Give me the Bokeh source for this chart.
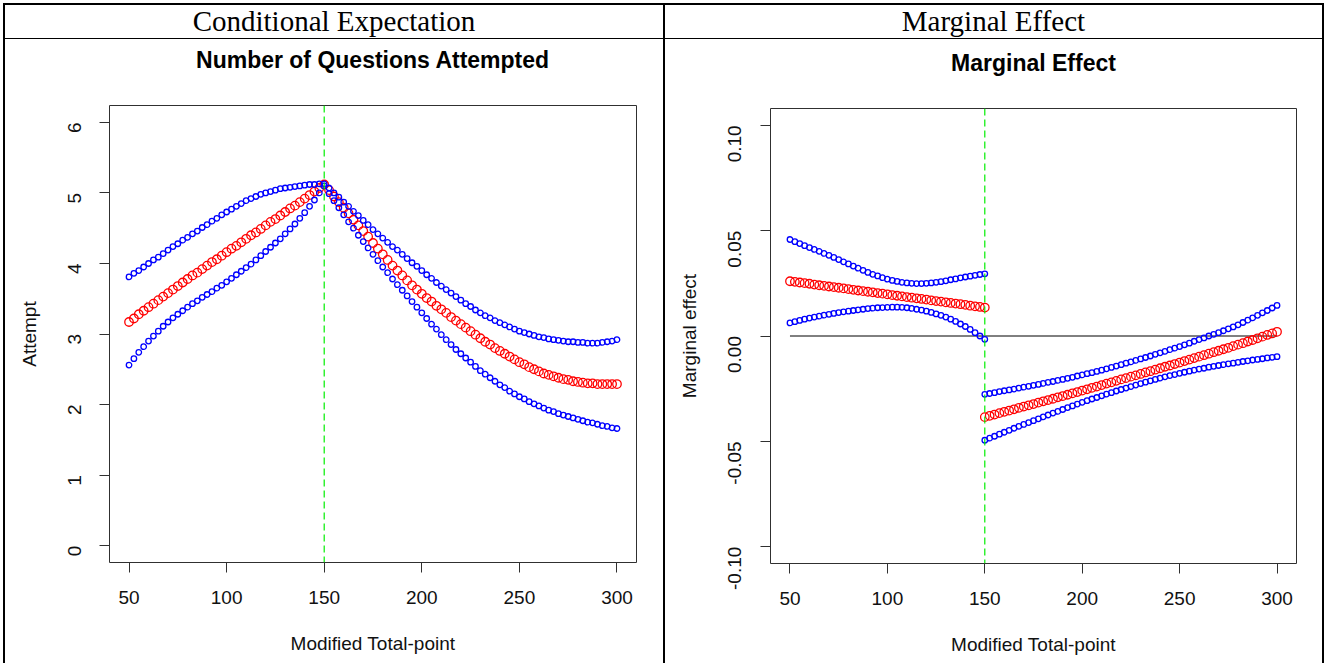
import math
from bokeh.plotting import figure
from bokeh.layouts import row, column
from bokeh.models import (Range1d, FixedTicker, PrintfTickFormatter, Span, Spacer, Div,
                          LinearAxis)
from bokeh.embed import file_html
from bokeh.resources import INLINE

# ---------------- data ----------------
x_points = [50, 52.5, 55, 57.5, 60, 62.5, 65, 67.5, 70, 72.5, 75, 77.5, 80, 82.5, 85, 87.5,
            90, 92.5, 95, 97.5, 100, 102.5, 105, 107.5, 110, 112.5, 115, 117.5, 120, 122.5,
            125, 127.5, 130, 132.5, 135, 137.5, 140, 142.5, 145, 147.5, 150, 152.5, 155, 157.5,
            160, 162.5, 165, 167.5, 170, 172.5, 175, 177.5, 180, 182.5, 185, 187.5, 190, 192.5,
            195, 197.5, 200, 202.5, 205, 207.5, 210, 212.5, 215, 217.5, 220, 222.5, 225, 227.5,
            230, 232.5, 235, 237.5, 240, 242.5, 245, 247.5, 250, 252.5, 255, 257.5, 260, 262.5,
            265, 267.5, 270, 272.5, 275, 277.5, 280, 282.5, 285, 287.5, 290, 292.5, 295, 297.5, 300]
cutoff = 150

attempt_fit = [3.17, 3.22, 3.28, 3.33, 3.38, 3.43, 3.48, 3.53, 3.58, 3.63, 3.68, 3.73, 3.78,
               3.83, 3.87, 3.92, 3.97, 4.02, 4.06, 4.11, 4.16, 4.21, 4.25, 4.30, 4.35, 4.40,
               4.44, 4.49, 4.54, 4.59, 4.63, 4.68, 4.73, 4.78, 4.82, 4.87, 4.92, 4.97, 5.02,
               5.07, 5.12,
               5.04, 4.95, 4.87, 4.79, 4.71, 4.62, 4.54, 4.46, 4.38, 4.29, 4.21, 4.13,
               4.05, 3.97, 3.90, 3.83, 3.76, 3.69, 3.63, 3.57, 3.51, 3.46, 3.40, 3.35,
               3.30, 3.24, 3.19, 3.14, 3.09, 3.04, 2.99, 2.94, 2.89, 2.85, 2.80, 2.76,
               2.72, 2.68, 2.64, 2.60, 2.57, 2.53, 2.50, 2.47, 2.44, 2.42, 2.40, 2.38,
               2.36, 2.35, 2.33, 2.32, 2.31, 2.30, 2.30, 2.29, 2.29, 2.29, 2.29, 2.29]
attempt_upper = [3.81, 3.86, 3.90, 3.95, 4.00, 4.05, 4.09, 4.14, 4.19, 4.24, 4.28, 4.33, 4.37,
                 4.42, 4.46, 4.51, 4.55, 4.60, 4.64, 4.69, 4.73, 4.77, 4.81, 4.85, 4.89, 4.92,
                 4.95, 4.98, 5.00, 5.02, 5.04, 5.06, 5.07, 5.08, 5.09, 5.10, 5.11, 5.12, 5.12,
                 5.13, 5.13,
                 5.07, 5.00, 4.94, 4.87, 4.81, 4.74, 4.68, 4.61, 4.55, 4.48, 4.42, 4.36,
                 4.30, 4.24, 4.19, 4.13, 4.07, 4.01, 3.96, 3.90, 3.84, 3.79, 3.73, 3.68,
                 3.63, 3.58, 3.53, 3.48, 3.43, 3.39, 3.34, 3.30, 3.26, 3.23, 3.19, 3.16,
                 3.13, 3.10, 3.07, 3.04, 3.02, 3.00, 2.98, 2.96, 2.95, 2.93, 2.92, 2.91,
                 2.90, 2.89, 2.89, 2.88, 2.88, 2.87, 2.87, 2.87, 2.88, 2.89, 2.90, 2.92]
attempt_lower = [2.56, 2.65, 2.74, 2.82, 2.90, 2.97, 3.04, 3.11, 3.17, 3.23, 3.28, 3.33, 3.38,
                 3.43, 3.47, 3.52, 3.56, 3.60, 3.65, 3.69, 3.74, 3.79, 3.84, 3.89, 3.94, 3.99,
                 4.05, 4.11, 4.17, 4.23, 4.29, 4.35, 4.42, 4.49, 4.56, 4.64, 4.72, 4.81, 4.90,
                 5.00, 5.10,
                 4.99, 4.89, 4.79, 4.69, 4.59, 4.50, 4.40, 4.31, 4.22, 4.13, 4.04, 3.95,
                 3.87, 3.78, 3.70, 3.62, 3.54, 3.46, 3.38, 3.30, 3.22, 3.14, 3.07, 2.99,
                 2.92, 2.85, 2.78, 2.72, 2.66, 2.60, 2.54, 2.48, 2.43, 2.38, 2.33, 2.28,
                 2.24, 2.19, 2.15, 2.11, 2.08, 2.04, 2.01, 1.98, 1.95, 1.92, 1.90, 1.87,
                 1.85, 1.83, 1.81, 1.79, 1.77, 1.75, 1.74, 1.72, 1.70, 1.69, 1.67, 1.66]

# marginal effect, below the cutoff (x = 50 .. 150)
me_fit_below = [0.0260, 0.0257, 0.0254, 0.0251, 0.0248, 0.0244, 0.0241, 0.0238, 0.0235, 0.0232,
                0.0229, 0.0226, 0.0223, 0.0219, 0.0216, 0.0213, 0.0210, 0.0207, 0.0204, 0.0201,
                0.0198, 0.0194, 0.0191, 0.0188, 0.0185, 0.0182, 0.0179, 0.0176, 0.0173, 0.0169,
                0.0166, 0.0163, 0.0160, 0.0157, 0.0154, 0.0151, 0.0148, 0.0144, 0.0141, 0.0138,
                0.0135]
me_upper_below = [0.0458, 0.0448, 0.0439, 0.0429, 0.0420, 0.0411, 0.0402, 0.0392, 0.0383, 0.0373,
                  0.0363, 0.0352, 0.0342, 0.0332, 0.0322, 0.0312, 0.0302, 0.0293, 0.0285, 0.0277,
                  0.0270, 0.0264, 0.0259, 0.0255, 0.0252, 0.0250, 0.0249, 0.0249, 0.0250, 0.0252,
                  0.0255, 0.0258, 0.0262, 0.0267, 0.0271, 0.0276, 0.0280, 0.0284, 0.0288, 0.0292,
                  0.0295]
me_lower_below = [0.0062, 0.0068, 0.0074, 0.0080, 0.0085, 0.0090, 0.0094, 0.0099, 0.0103, 0.0107,
                  0.0111, 0.0115, 0.0118, 0.0121, 0.0124, 0.0127, 0.0130, 0.0132, 0.0134, 0.0135,
                  0.0136, 0.0137, 0.0137, 0.0136, 0.0134, 0.0131, 0.0127, 0.0123, 0.0118, 0.0112,
                  0.0105, 0.0098, 0.0090, 0.0080, 0.0069, 0.0057, 0.0045, 0.0031, 0.0016, 0.0000,
                  -0.0016]
# marginal effect, above the cutoff (x = 150 .. 300)
me_fit_above = [-0.0385, -0.0379, -0.0373, -0.0366, -0.0360, -0.0354, -0.0348, -0.0341,
                -0.0335, -0.0329, -0.0323, -0.0316, -0.0310, -0.0304, -0.0298, -0.0291,
                -0.0285, -0.0279, -0.0272, -0.0266, -0.0259, -0.0253, -0.0246, -0.0240,
                -0.0233, -0.0226, -0.0220, -0.0213, -0.0206, -0.0200, -0.0193, -0.0187,
                -0.0180, -0.0173, -0.0167, -0.0160, -0.0153, -0.0146, -0.0140, -0.0133,
                -0.0126, -0.0119, -0.0112, -0.0105, -0.0098, -0.0091, -0.0084, -0.0077,
                -0.0070, -0.0063, -0.0056, -0.0048, -0.0041, -0.0034, -0.0026, -0.0019,
                -0.0011, -0.0003, 0.0005, 0.0012, 0.0020]
me_upper_above = [-0.0277, -0.0273, -0.0269, -0.0264, -0.0260, -0.0256, -0.0252, -0.0247,
                  -0.0243, -0.0239, -0.0234, -0.0230, -0.0225, -0.0220, -0.0216, -0.0211,
                  -0.0206, -0.0201, -0.0196, -0.0190, -0.0185, -0.0179, -0.0174, -0.0168,
                  -0.0162, -0.0156, -0.0149, -0.0143, -0.0136, -0.0129, -0.0123, -0.0116,
                  -0.0109, -0.0102, -0.0095, -0.0087, -0.0080, -0.0073, -0.0065, -0.0058,
                  -0.0050, -0.0042, -0.0034, -0.0025, -0.0017, -0.0009, 0.0000, 0.0008,
                  0.0016, 0.0025, 0.0034, 0.0043, 0.0053, 0.0064, 0.0075, 0.0086,
                  0.0098, 0.0110, 0.0121, 0.0133, 0.0145]
me_lower_above = [-0.0495, -0.0485, -0.0476, -0.0466, -0.0457, -0.0448, -0.0438, -0.0429,
                  -0.0420, -0.0411, -0.0402, -0.0393, -0.0384, -0.0375, -0.0366, -0.0358,
                  -0.0349, -0.0340, -0.0332, -0.0323, -0.0315, -0.0307, -0.0299, -0.0292,
                  -0.0284, -0.0276, -0.0269, -0.0261, -0.0254, -0.0247, -0.0240, -0.0233,
                  -0.0226, -0.0219, -0.0213, -0.0206, -0.0200, -0.0194, -0.0188, -0.0183,
                  -0.0177, -0.0172, -0.0167, -0.0162, -0.0157, -0.0153, -0.0148, -0.0144,
                  -0.0140, -0.0136, -0.0132, -0.0129, -0.0125, -0.0121, -0.0118, -0.0114,
                  -0.0111, -0.0108, -0.0104, -0.0101, -0.0098]

x_ticks = [50, 100, 150, 200, 250, 300]
attempt_ticks = [0, 1, 2, 3, 4, 5, 6]
me_ticks = [-0.10, -0.05, 0.0, 0.05, 0.10]

header_left = "Conditional Expectation"
header_right = "Marginal Effect"
title_left = "Number of Questions Attempted"
title_right = "Marginal Effect"
xlabel = "Modified Total-point"
ylabel_left = "Attempt"
ylabel_right = "Marginal effect"

n_below = x_points.index(cutoff) + 1
x_below = x_points[:n_below]
x_above = x_points[n_below - 1:]

# ---------------- styling helpers ----------------
SANS = "Liberation Sans"
BOX = "#303030"
RED_SIZE, BLUE_SIZE = 8.5, 5.5


def bar(w, h, color="black"):
    return Spacer(width=w, height=h, margin=0, styles={"background-color": color})


def header(w, h, text):
    html = ('<div style="width:%dpx;height:%dpx;line-height:%dpx;text-align:center;'
            'font-family:\'Liberation Serif\',serif;font-size:29px;color:#000;'
            'white-space:nowrap;margin:0;padding:0;">%s</div>') % (w, h, h, text)
    return Div(text=html, width=w, height=h, margin=0)


def panel(w, h, ylo, yhi, title, ylab, yticks, borders, fmt=None,
          ylab_standoff=19, ytick_standoff=25):
    l, r, t, b = borders
    p = figure(width=w, height=h, x_range=Range1d(40, 310), y_range=Range1d(ylo, yhi),
               toolbar_location=None, output_backend="svg", title=None,
               min_border_left=l, min_border_right=r, min_border_top=t, min_border_bottom=b)
    p.grid.visible = False
    p.outline_line_color = BOX
    p.outline_line_width = 1
    bottom_axis = p.below[0]
    left_axis = p.left[0]
    for ax in (bottom_axis, left_axis):
        ax.axis_line_color = None
        ax.major_tick_line_color = BOX
        ax.major_tick_out = 10
        ax.major_tick_in = 0
        ax.minor_tick_line_color = None
        ax.major_label_text_font = SANS
        ax.major_label_text_font_size = "19px"
        ax.major_label_text_color = "#111111"
        ax.axis_label_text_font = SANS
        ax.axis_label_text_font_size = "19px"
        ax.axis_label_text_font_style = "normal"
        ax.axis_label_text_color = "#111111"
    bottom_axis.ticker = FixedTicker(ticks=x_ticks)
    bottom_axis.axis_label = xlabel
    bottom_axis.major_label_standoff = 18
    bottom_axis.axis_label_standoff = 26
    left_axis.ticker = FixedTicker(ticks=yticks)
    left_axis.axis_label = ylab
    left_axis.major_label_orientation = math.pi / 2
    left_axis.major_label_standoff = ytick_standoff
    left_axis.axis_label_standoff = ylab_standoff
    if fmt:
        left_axis.formatter = PrintfTickFormatter(format=fmt)
    # main title: drawn as the label of a tick-less axis above the plot box
    top = LinearAxis(ticker=FixedTicker(ticks=[]), axis_label=title,
                     axis_line_color=None, major_tick_line_color=None,
                     minor_tick_line_color=None, major_label_text_font_size="0px",
                     major_tick_out=0, major_tick_in=0, major_label_standoff=0,
                     axis_label_text_font=SANS, axis_label_text_font_size="23px",
                     axis_label_text_font_style="bold", axis_label_text_color="black",
                     axis_label_standoff=33)
    p.add_layout(top, "above")
    return p


def cutoff_line():
    return Span(location=cutoff, dimension="height", line_color="#00ee00",
                line_dash="7 4", line_width=1.2)


# ---------------- left panel ----------------
pL = panel(658, 624, -0.24, 6.24, title_left, ylabel_left, attempt_ticks,
           (104, 27, 66, 101))
pL.scatter(x_points, attempt_fit, marker="circle", size=RED_SIZE, fill_color=None,
           line_color="#ff0000", line_width=1.3)
pL.scatter(x_points, attempt_upper, marker="circle", size=BLUE_SIZE, fill_color=None,
           line_color="#0000ff", line_width=1.3)
pL.scatter(x_points, attempt_lower, marker="circle", size=BLUE_SIZE, fill_color=None,
           line_color="#0000ff", line_width=1.3)
pL.add_layout(cutoff_line())

# ---------------- right panel ----------------
pR = panel(657, 624, -0.108, 0.108, title_right, ylabel_right, me_ticks,
           (105, 26, 69, 100), fmt="%.2f", ylab_standoff=19, ytick_standoff=26)
pR.line([x_points[0], x_points[-1]], [0, 0], line_color="black", line_width=1)
for xs, fit, up, lo in ((x_below, me_fit_below, me_upper_below, me_lower_below),
                        (x_above, me_fit_above, me_upper_above, me_lower_above)):
    pR.scatter(xs, fit, marker="circle", size=RED_SIZE, fill_color=None,
               line_color="#ff0000", line_width=1.3)
    pR.scatter(xs, up, marker="circle", size=BLUE_SIZE, fill_color=None,
               line_color="#0000ff", line_width=1.3)
    pR.scatter(xs, lo, marker="circle", size=BLUE_SIZE, fill_color=None,
               line_color="#0000ff", line_width=1.3)
pR.add_layout(cutoff_line())

# ---------------- table layout ----------------
colL = column(bar(658, 2), header(658, 33, header_left), bar(658, 1), pL, spacing=0, margin=0)
colR = column(bar(657, 2), header(657, 33, header_right), bar(657, 1), pR, spacing=0, margin=0)
page = column(
    bar(1326, 3, "white"),
    row(bar(3, 660, "white"), bar(2, 660), colL, bar(2, 660), colR, bar(2, 660),
        bar(2, 660, "white"), spacing=0, margin=0),
    spacing=0, margin=0)

open("out.html", "w").write(file_html(page, INLINE))
